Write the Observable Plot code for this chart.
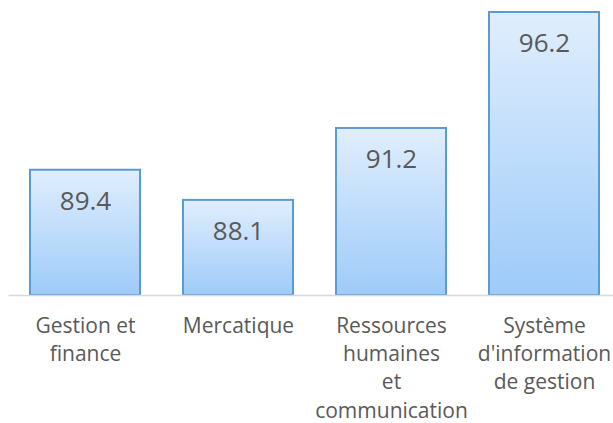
<!DOCTYPE html>
<html>
<head>
<meta charset="utf-8">
<script src="https://cdn.jsdelivr.net/npm/d3@7"></script>
<script src="https://cdn.jsdelivr.net/npm/@observablehq/plot@0.6"></script>
<style>
  html, body { margin: 0; padding: 0; background: #fff; }
  #chart { width: 613px; height: 423px; overflow: hidden; }
</style>
</head>
<body>
<div id="chart"></div>
<script>
const categories = [
  "Gestion et\nfinance",
  "Mercatique",
  "Ressources\nhumaines\net\ncommunication",
  "Système\nd'information\nde gestion"
];
const values = [89.4, 88.1, 91.2, 96.2];
const yDomain = [84, 96.2];

const data = categories.map((c, i) => ({category: c, value: values[i]}));

const plot = Plot.plot({
  width: 613,
  height: 423,
  marginLeft: 8.5,
  marginRight: -7.5,
  marginTop: 12,
  marginBottom: 128,
  style: {fontFamily: "'Open Sans', sans-serif", background: "#fff"},
  x: {domain: categories, paddingInner: 0.281, paddingOuter: 0.1405},
  y: {domain: yDomain, axis: null},
  marks: [
    Plot.barY(data, {
      x: "category", y1: yDomain[0], y2: "value",
      fill: "url(#barGrad)", stroke: "#5b9bd5", strokeWidth: 2
    }),
    Plot.ruleY([yDomain[0]], {stroke: "#d9d9d9", strokeWidth: 1.5}),
    Plot.text(data, {
      x: "category", y: "value", text: d => d.value.toFixed(1),
      dy: 31, fontSize: 26, fill: "#595959"
    }),
    Plot.axisX({
      tickSize: 0, tickPadding: 17, fontSize: 21, lineHeight: 1.35,
      lineAnchor: "top", color: "#595959", label: null
    })
  ]
});

const svg = d3.select(plot);
const defs = svg.insert("defs", ":first-child");
const g = defs.append("linearGradient")
  .attr("id", "barGrad").attr("x1", 0).attr("y1", 0).attr("x2", 0).attr("y2", 1);
g.append("stop").attr("offset", "0%").attr("stop-color", "#e0eefd");
g.append("stop").attr("offset", "100%").attr("stop-color", "#9ecbf9");

document.getElementById("chart").appendChild(plot);
</script>
</body>
</html>
